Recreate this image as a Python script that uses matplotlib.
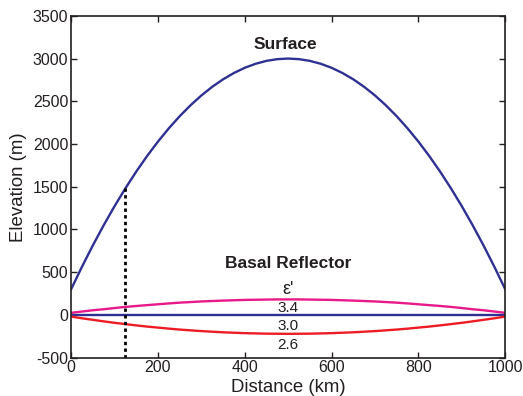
import matplotlib
matplotlib.use("Agg")
from matplotlib import pyplot as plt

plt.rcParams['font.family'] = ['Liberation Sans', 'DejaVu Sans']
plt.rcParams['axes.unicode_minus'] = False

# surface profile (km, m), symmetric about 500 km
dist = list(range(0, 1001, 25))
half_surface = [300, 563, 813, 1049, 1272, 1481, 1677, 1859, 2028, 2183, 2325,
                2453, 2568, 2669, 2757, 2831, 2892, 2939, 2973, 2993, 3000]
half_34 = [24, 39, 54, 66, 80, 93, 104, 114, 124, 134, 143,
           150, 157, 162, 167, 171, 175, 177, 179, 181, 181]
half_26 = [-20, -40, -58, -76, -93, -108, -123, -137, -149, -161, -172,
           -181, -190, -197, -204, -209, -214, -217, -220, -221, -222]

surface = half_surface + half_surface[-2::-1]
refl_34 = half_34 + half_34[-2::-1]
refl_30 = [0] * len(dist)
refl_26 = half_26 + half_26[-2::-1]

eps_labels = ['3.4', '3.0', '2.6']
eps_label_y = [80, -133, -350]

dash_x = 125
dash_top = 1500

fig = plt.figure(figsize=(5.23, 3.96), dpi=100)
ax = fig.add_axes([0.136, 0.097, 0.830, 0.863])

navy = '#2e3192'
ax.plot(dist, surface, color=navy, lw=1.7)
ax.plot(dist, refl_34, color='#e8198b', lw=1.7)
ax.plot(dist, refl_30, color=navy, lw=1.7)
ax.plot(dist, refl_26, color='#ed1c24', lw=1.7)
ax.plot([dash_x, dash_x], [-500, dash_top], color='black', lw=2, linestyle=(0, (1.2, 1.2)))

ax.text(493, 3170, 'Surface', ha='center', va='center', fontsize=12.5, fontweight='bold', color='#231f20')
ax.text(500, 600, 'Basal Reflector', ha='center', va='center', fontsize=12.5, fontweight='bold', color='#231f20')
ax.text(500, 300, "ε'", ha='center', va='center', fontsize=13, color='#231f20')
for lab, y in zip(eps_labels, eps_label_y):
    ax.text(500, y, lab, ha='center', va='center', fontsize=11, color='#231f20')

ax.set_xlim(0, 1000)
ax.set_ylim(-500, 3500)
ax.set_xticks(range(0, 1001, 200))
ax.set_yticks(range(-500, 3501, 500))
ax.tick_params(direction='in', top=True, right=True, labelsize=11.5, length=4, width=1,
               colors='#231f20', pad=2)
for s in ax.spines.values():
    s.set_linewidth(1.2)
    s.set_color('#231f20')
ax.set_xlabel('Distance (km)', fontsize=13.4, color='#231f20', labelpad=2.5)
ax.set_ylabel('Elevation (m)', fontsize=13.4, color='#231f20', labelpad=4)

fig.savefig('out.png', dpi=100)
